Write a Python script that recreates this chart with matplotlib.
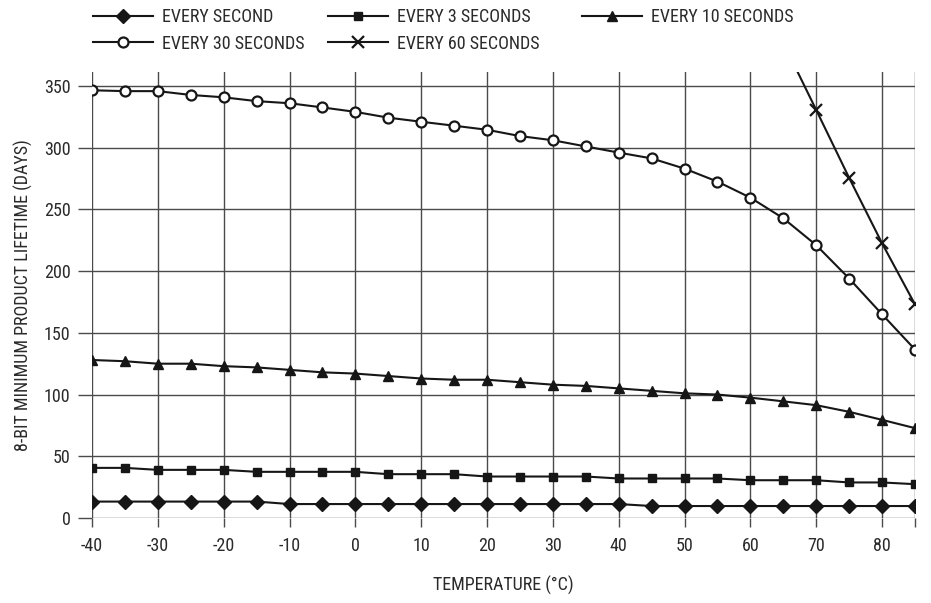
import matplotlib
matplotlib.use("Agg")
import matplotlib.pyplot as plt
from matplotlib import font_manager as fm

available = {f.name for f in fm.fontManager.ttflist}
font_choice = 'DejaVu Sans'
for cand in ['Roboto Condensed', 'Liberation Sans Narrow', 'Archivo Narrow',
             'PT Sans Narrow', 'IBM Plex Sans Condensed']:
    if cand in available:
        font_choice = cand
        break
plt.rcParams['font.family'] = [font_choice, 'DejaVu Sans']

temps = [-40, -35, -30, -25, -20, -15, -10, -5, 0, 5, 10, 15, 20, 25, 30, 35, 40,
         45, 50, 55, 60, 65, 70, 75, 80, 85]

every_second = [13.3, 13.3, 13.3, 13.3, 13.3, 13.3, 11.3, 11.3, 11.3, 11.3, 11.3, 11.3,
                11.3, 11.3, 11.3, 11.3, 11.3, 9.7, 9.7, 9.7, 9.7, 9.7, 9.7, 9.7, 9.7, 9.7]
every_3 = [40.6, 40.6, 39, 39, 39, 37.4, 37.4, 37.4, 37.4, 35.5, 35.5, 35.5, 33.6, 33.6,
           33.6, 33.6, 32, 32, 32, 32, 30.6, 30.6, 30.6, 28.8, 28.8, 27.4]
every_10 = [128, 127, 125, 125, 123, 122, 120, 118, 117, 115, 113, 112, 112, 110, 108,
            107, 105, 103, 101, 100, 97.5, 94.5, 91.4, 86, 79.5, 72.8]
every_30 = [346.5, 345.8, 345.8, 342.7, 340.8, 337.7, 336, 332.6, 329, 324.3, 321, 317.8,
            314.5, 309.4, 306, 301, 296, 291.3, 283, 272.5, 259.5, 242.8, 221, 194, 165, 136.5]
temps_60 = [65, 70, 75, 80, 85]
every_60 = [385, 330.5, 275.5, 222.5, 173]

y_ticks = [0, 50, 100, 150, 200, 250, 300, 350]
x_ticks = [-40, -30, -20, -10, 0, 10, 20, 30, 40, 50, 60, 70, 80]
x_grid_extra = [85]

labels = ['EVERY SECOND', 'EVERY 3 SECONDS', 'EVERY 10 SECONDS',
          'EVERY 30 SECONDS', 'EVERY 60 SECONDS']

W, H = 931, 603
fig = plt.figure(figsize=(W / 100, H / 100), dpi=100)
ax = fig.add_axes([92 / W, 1 - 518 / H, (915 - 92) / W, (518 - 72) / H])

ax.set_xlim(-40, 85)
ax.set_ylim(0, 361.3)

for s in ax.spines.values():
    s.set_visible(False)

FS = 13
txtc = '#2a2a2a'
gridc = '#4a4a4a'
ax.set_xticks(x_ticks + x_grid_extra)
ax.set_xticklabels([str(t) for t in x_ticks] + [''])
ax.set_yticks(y_ticks)
ax.set_yticklabels([str(t) for t in y_ticks])
ax.grid(True, color=gridc, linewidth=1.0)
ax.tick_params(axis='y', direction='out', length=10, width=1.0, color=gridc,
               labelsize=FS, labelcolor=txtc, pad=5.5)
ax.tick_params(axis='x', direction='out', length=6.5, width=1.0, color=gridc,
               labelsize=FS, labelcolor=txtc, pad=7)
ax.set_axisbelow(True)

lc = '#161616'
kw = dict(color=lc, linewidth=1.5, clip_on=True)
l1, = ax.plot(temps, every_second, marker='D', markersize=7, markerfacecolor=lc,
              markeredgecolor=lc, label=labels[0], **kw)
l2, = ax.plot(temps, every_3, marker='s', markersize=6.3, markerfacecolor=lc,
              markeredgecolor=lc, label=labels[1], **kw)
l3, = ax.plot(temps, every_10, marker='^', markersize=7.5, markerfacecolor=lc,
              markeredgecolor=lc, label=labels[2], **kw)
l4, = ax.plot(temps, every_30, marker='o', markersize=7.2, markerfacecolor='white',
              markeredgecolor=lc, markeredgewidth=1.6, label=labels[3], **kw)
l5, = ax.plot(temps_60, every_60, marker='x', markersize=9, markeredgewidth=1.6,
              markeredgecolor=lc, label=labels[4], **kw)

ax.set_xlabel('TEMPERATURE (°C)', fontsize=FS, color=txtc, labelpad=15)
ax.set_ylabel('8-BIT MINIMUM PRODUCT LIFETIME (DAYS)', fontsize=FS, color=txtc,
              labelpad=8)

# legend laid out in three columns, as in the reference
columns = [([l1, l4], [labels[0], labels[3]], 93),
           ([l2, l5], [labels[1], labels[4]], 328),
           ([l3], [labels[2]], 582)]
for hs, ls, xpix in columns:
    leg = fig.legend(hs, ls, ncol=1, loc='upper left',
                     bbox_to_anchor=(xpix / W, 1 - 8 / H), frameon=False, fontsize=FS,
                     handlelength=3.3, handletextpad=0.5,
                     labelspacing=0.48, borderaxespad=0, borderpad=0)
    for t in leg.get_texts():
        t.set_color(txtc)

fig.savefig('out.png', dpi=100)
